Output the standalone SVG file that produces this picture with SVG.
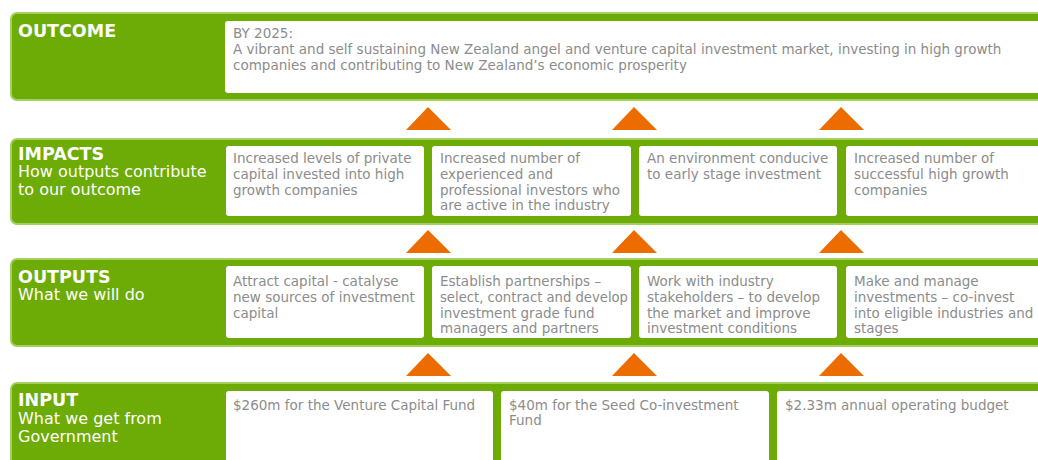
<svg xmlns="http://www.w3.org/2000/svg" width="1038" height="460" viewBox="0 0 1038 460">
<defs>
<style>
.band{fill:#6dab06;stroke:#a6cf62;stroke-width:2}
.box{fill:#ffffff}
.title{font-family:"DejaVu Sans",sans-serif;font-weight:bold;font-size:17.5px;fill:#ffffff}
.sub{font-family:"DejaVu Sans",sans-serif;font-size:16px;fill:#ffffff}
.txt{font-family:"DejaVu Sans",sans-serif;font-size:13.5px;fill:#8c8c8c}
.tri{fill:#ec6c00}
</style>
</defs>
<rect width="1038" height="460" fill="#ffffff"/>
<g id="outcome">
<rect class="band" x="11" y="13" width="1040" height="87" rx="6"/>
<rect class="box" x="225" y="21" width="820" height="72" rx="3"/>
<text class="title" x="18" y="37">OUTCOME</text>
<text class="txt" x="233" y="38">BY 2025:</text>
<text class="txt" x="233" y="54">A vibrant and self sustaining New Zealand angel and venture capital investment market, investing in high growth</text>
<text class="txt" x="233" y="70">companies and contributing to New Zealand’s economic prosperity</text>
</g>
<g id="impacts">
<rect class="band" x="11" y="139" width="1040" height="85" rx="6"/>
<text class="title" x="18" y="160">IMPACTS</text>
<text class="sub" x="18" y="177">How outputs contribute</text>
<text class="sub" x="18" y="195">to our outcome</text>
</g>
<g id="impact1"><rect class="box" x="226" y="146" width="198" height="70" rx="3"/>
<text class="txt" x="233" y="163">Increased levels of private</text>
<text class="txt" x="233" y="179">capital invested into high</text>
<text class="txt" x="233" y="195">growth companies</text></g>
<g id="impact2"><rect class="box" x="432" y="146" width="199" height="70" rx="3"/>
<text class="txt" x="440" y="163">Increased number of</text>
<text class="txt" x="440" y="179">experienced and</text>
<text class="txt" x="440" y="195">professional investors who</text>
<text class="txt" x="440" y="210">are active in the industry</text></g>
<g id="impact3"><rect class="box" x="639" y="146" width="198" height="70" rx="3"/>
<text class="txt" x="647" y="163">An environment conducive</text>
<text class="txt" x="647" y="179">to early stage investment</text></g>
<g id="impact4"><rect class="box" x="846" y="146" width="200" height="70" rx="3"/>
<text class="txt" x="854" y="163">Increased number of</text>
<text class="txt" x="854" y="179">successful high growth</text>
<text class="txt" x="854" y="195">companies</text></g>
<g id="outputs">
<rect class="band" x="11" y="259" width="1040" height="87" rx="6"/>
<text class="title" x="18" y="283">OUTPUTS</text>
<text class="sub" x="18" y="300">What we will do</text>
</g>
<g id="output1"><rect class="box" x="226" y="266" width="198" height="72" rx="3"/>
<text class="txt" x="233" y="286">Attract capital - catalyse</text>
<text class="txt" x="233" y="302">new sources of investment</text>
<text class="txt" x="233" y="318">capital</text></g>
<g id="output2"><rect class="box" x="432" y="266" width="199" height="72" rx="3"/>
<text class="txt" x="440" y="286">Establish partnerships –</text>
<text class="txt" x="440" y="302" textLength="188" lengthAdjust="spacingAndGlyphs">select, contract and develop</text>
<text class="txt" x="440" y="318">investment grade fund</text>
<text class="txt" x="440" y="333">managers and partners</text></g>
<g id="output3"><rect class="box" x="639" y="266" width="198" height="72" rx="3"/>
<text class="txt" x="647" y="286">Work with industry</text>
<text class="txt" x="647" y="302">stakeholders – to develop</text>
<text class="txt" x="647" y="318">the market and improve</text>
<text class="txt" x="647" y="333">investment conditions</text></g>
<g id="output4"><rect class="box" x="846" y="266" width="200" height="72" rx="3"/>
<text class="txt" x="854" y="286">Make and manage</text>
<text class="txt" x="854" y="302">investments – co-invest</text>
<text class="txt" x="854" y="318">into eligible industries and</text>
<text class="txt" x="854" y="333">stages</text></g>
<g id="input">
<rect class="band" x="11" y="383" width="1040" height="100" rx="6"/>
<text class="title" x="18" y="406">INPUT</text>
<text class="sub" x="18" y="424">What we get from</text>
<text class="sub" x="18" y="442">Government</text>
</g>
<g id="input1"><rect class="box" x="226" y="391" width="267" height="90" rx="3"/>
<text class="txt" x="233" y="410">$260m for the Venture Capital Fund</text></g>
<g id="input2"><rect class="box" x="501" y="391" width="268" height="90" rx="3"/>
<text class="txt" x="509" y="410">$40m for the Seed Co-investment</text>
<text class="txt" x="509" y="425">Fund</text></g>
<g id="input3"><rect class="box" x="777" y="391" width="270" height="90" rx="3"/>
<text class="txt" x="785" y="410">$2.33m annual operating budget</text></g>
<g id="connectors">
<polygon class="tri" points="428,107 451,130 406,130"/>
<polygon class="tri" points="634,107 657,130 612,130"/>
<polygon class="tri" points="841,107 864,130 819,130"/>
<polygon class="tri" points="428,230 451,253 406,253"/>
<polygon class="tri" points="634,230 657,253 612,253"/>
<polygon class="tri" points="841,230 864,253 819,253"/>
<polygon class="tri" points="428,353 451,376 406,376"/>
<polygon class="tri" points="634,353 657,376 612,376"/>
<polygon class="tri" points="841,353 864,376 819,376"/>
</g>
</svg>
